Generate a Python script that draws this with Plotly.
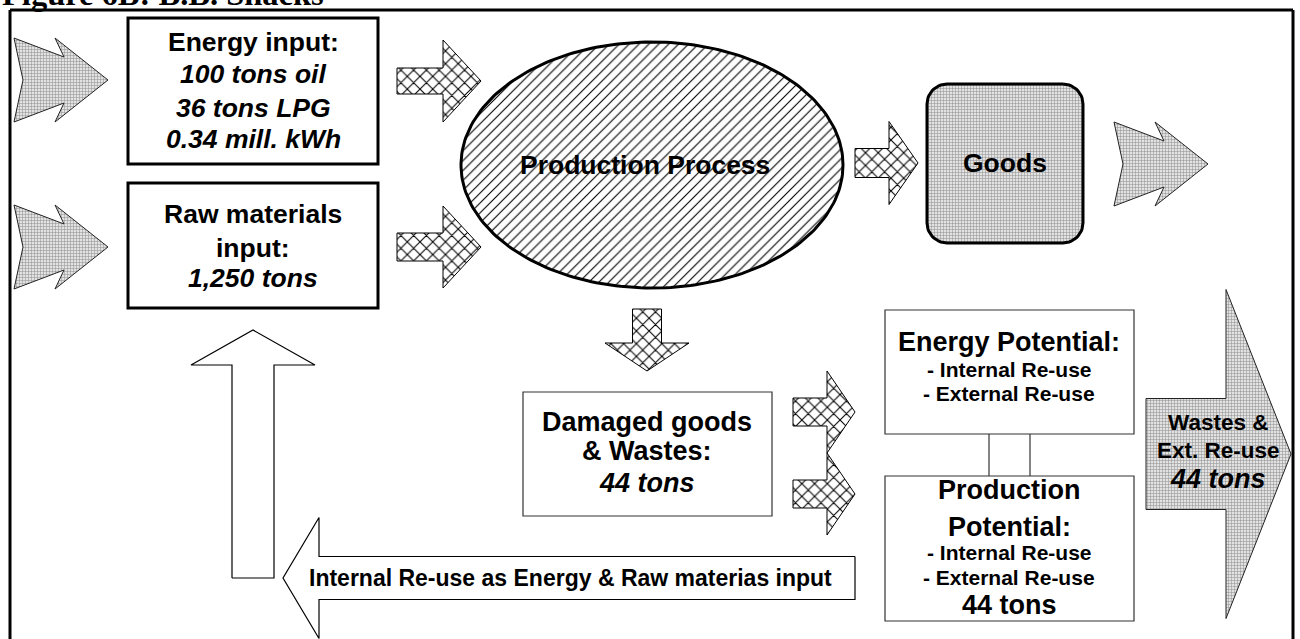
import numpy as np
import plotly.graph_objects as go

# ---------------- texts / values ----------------
title_text = "Figure 6B: B.B. Snacks"
energy_header = "Energy input:"
energy_inputs = ["100 tons oil", "36 tons LPG", "0.34 mill. kWh"]
raw_header = ["Raw materials", "input:"]
raw_inputs = ["1,250 tons"]
process_label = "Production Process"
goods_label = "Goods"
damaged_header = ["Damaged goods", "& Wastes:"]
damaged_amount = ["44 tons"]
energy_pot_header = ["Energy Potential:"]
reuse_options = ["- Internal Re-use", "- External Re-use"]
prod_pot_header = ["Production", "Potential:"]
prod_pot_amount = ["44 tons"]
waste_header = ["Wastes &", "Ext. Re-use"]
waste_amount = ["44 tons"]
internal_loop_label = "Internal Re-use as Energy & Raw materias input"

# ---------------- layout geometry (pixel space) ----------------
W, H = 1300, 639
FONT = "Arial, Liberation Sans, sans-serif"

fig = go.Figure()

STIPPLE = dict(shape="+", size=3, solidity=0.3, fgcolor="#8c8c8c", bgcolor="#e2e2e2", fillmode="replace")
CROSS = dict(shape="x", size=9, solidity=0.22, fgcolor="#000000", bgcolor="#ffffff", fillmode="replace")
HATCH = dict(shape="/", size=7, solidity=0.16, fgcolor="#000000", bgcolor="#ffffff", fillmode="replace")


def poly(pts, pattern=None, fill="#ffffff", lc="#000000", lw=1.0):
    xs = [p[0] for p in pts] + [pts[0][0]]
    ys = [p[1] for p in pts] + [pts[0][1]]
    kw = dict(x=xs, y=ys, mode="lines", fill="toself", fillcolor=fill,
              line=dict(color=lc, width=lw), hoverinfo="skip", showlegend=False)
    if pattern is not None:
        kw["fillpattern"] = pattern
    fig.add_trace(go.Scatter(**kw))


def arrow_h(x0, xb, xt, yc, sh, hh):
    # x0 = shaft end, xb = head base, xt = tip
    return [(x0, yc - sh), (xb, yc - sh), (xb, yc - hh), (xt, yc),
            (xb, yc + hh), (xb, yc + sh), (x0, yc + sh)]


def arrow_v(xc, y0, yb, yt, sw, hw):
    return [(xc - sw, y0), (xc + sw, y0), (xc + sw, yb), (xc + hw, yb), (xc, yt),
            (xc - hw, yb), (xc - sw, yb)]


NOTCH = [(0, 0), (50, 19), (41, 0), (94, 42), (41, 84), (50, 65), (0, 84), (9, 42)]


def notched(x, y):
    return [(x + a, y + b) for a, b in NOTCH]


def ellipse(cx, cy, rx, ry, n=240):
    t = np.linspace(0, 2 * np.pi, n)
    return list(zip(cx + rx * np.cos(t), cy + ry * np.sin(t)))


def rounded_rect(x0, y0, x1, y1, r, n=16):
    pts = []
    for (cx, cy, a0) in [(x1 - r, y0 + r, -np.pi / 2), (x1 - r, y1 - r, 0),
                         (x0 + r, y1 - r, np.pi / 2), (x0 + r, y0 + r, np.pi)]:
        t = np.linspace(a0, a0 + np.pi / 2, n)
        pts += list(zip(cx + r * np.cos(t), cy + r * np.sin(t)))
    return pts


# ---- input arrows (stipple) ----
poly(notched(14, 38), STIPPLE, lc="#222222")
poly(notched(14, 205), STIPPLE, lc="#222222")

# ---- crosshatch arrows into process ----
poly(arrow_h(397, 443, 481, 81, 13, 41), CROSS)
poly(arrow_h(397, 443, 481, 247, 14, 41), CROSS)

# ---- production process ellipse ----
poly(ellipse(652, 165, 191, 123), HATCH, lw=3)

# ---- arrow to goods ----
poly(arrow_h(855, 889, 918, 163, 14.5, 41.5), CROSS)

# ---- goods box ----
poly(rounded_rect(927, 84, 1083, 243, 20), STIPPLE, lw=3)

# ---- goods out arrow ----
poly(notched(1114, 122), STIPPLE, lc="#222222")

# ---- down arrow ----
poly(arrow_v(647, 309, 343, 371, 14.5, 42), CROSS)

# ---- arrows from damaged box ----
poly(arrow_h(793, 827, 855, 412, 14, 41), CROSS)
poly(arrow_h(793, 827, 855, 494, 14, 41), CROSS)

# ---- big waste arrow ----
poly(arrow_h(1146, 1226, 1291, 454, 55.5, 164.5), STIPPLE, lc="#222222")

# ---- white loop arrows ----
poly(arrow_v(253, 578, 365, 330, 21, 62), None, "#ffffff", lw=1.2)
poly(arrow_h(855, 319, 283, 578, 21.5, 60.5), None, "#ffffff", lw=1.2)

# ---------------- shapes (boxes, frame) ----------------
shapes = []


def rect(x0, y0, x1, y1, lw, lc="#000000", fill="rgba(0,0,0,0)", layer="above"):
    shapes.append(dict(type="rect", x0=x0, y0=y0, x1=x1, y1=y1, xref="x", yref="y",
                       line=dict(color=lc, width=lw), fillcolor=fill, layer=layer))


def line(x0, y0, x1, y1, lw, lc="#000000"):
    shapes.append(dict(type="line", x0=x0, y0=y0, x1=x1, y1=y1, xref="x", yref="y",
                       line=dict(color=lc, width=lw), layer="above"))


# frame
line(10, 10, 1293, 10, 3)
line(10, 10, 10, 639, 3)
line(1293, 10, 1293, 639, 3)

# input boxes
rect(128, 18, 378, 164, 3)
rect(128, 183, 378, 308, 3)

# damaged box
rect(523, 392, 772, 516, 1.2, "#333333")
# potential boxes and connector
rect(885, 310, 1134, 434, 1.2, "#333333")
rect(885, 476, 1134, 621, 1.2, "#333333")
line(989, 434, 989, 476, 1.2, "#333333")
line(1030, 434, 1030, 476, 1.2, "#333333")

# ---------------- text ----------------
ann = []


def text(x, y, s, size, bold=True, italic=False, family=FONT, xanchor="center"):
    if italic:
        s = "<i>" + s + "</i>"
    if bold:
        s = "<b>" + s + "</b>"
    ann.append(dict(x=x, y=y, xref="x", yref="y", text=s, showarrow=False,
                    xanchor=xanchor, yanchor="middle",
                    font=dict(family=family, size=size, color="#000000")))


def stack(x, ys, lines, size, italic=False):
    for y, s in zip(ys, lines):
        text(x, y, s, size, italic=italic)


# title (mostly cut off at the top of the page, as in the reference)
ann.append(dict(x=0.0, y=1 + 5.5 / H, xref="paper", yref="paper",
                text="<b>" + title_text + "</b>", showarrow=False,
                xanchor="left", yanchor="middle",
                font=dict(family="Liberation Serif, Times New Roman, serif", size=32.5, color="#000000")))

stack(253, [42], [energy_header], 26.5)
stack(253, [74, 108, 139], energy_inputs, 26.5, italic=True)
stack(253, [214, 248], raw_header, 26.5)
stack(253, [278], raw_inputs, 26.5, italic=True)

text(645, 165, process_label, 26.5)
text(1005, 163, goods_label, 26.5)

stack(647, [422, 451], damaged_header, 27)
stack(647, [483], damaged_amount, 27, italic=True)

stack(1009, [342], energy_pot_header, 27)
stack(1009, [369, 393], reuse_options, 21)
stack(1009, [490, 527], prod_pot_header, 27)
stack(1009, [552, 577], reuse_options, 21)
stack(1009, [605], prod_pot_amount, 27)

stack(1218, [422, 450], waste_header, 22.5)
stack(1218, [479], waste_amount, 27, italic=True)

text(570, 578, internal_loop_label, 23)

fig.update_layout(
    width=W, height=H, margin=dict(l=0, r=0, t=0, b=0),
    paper_bgcolor="#ffffff", plot_bgcolor="#ffffff",
    xaxis=dict(range=[0, W], visible=False, fixedrange=True),
    yaxis=dict(range=[H, 0], visible=False, fixedrange=True),
    shapes=shapes, annotations=ann, showlegend=False,
)

fig.write_html("out.html", config={"displayModeBar": False},
               post_script="document.body.style.margin='0px';document.body.style.padding='0px';")
